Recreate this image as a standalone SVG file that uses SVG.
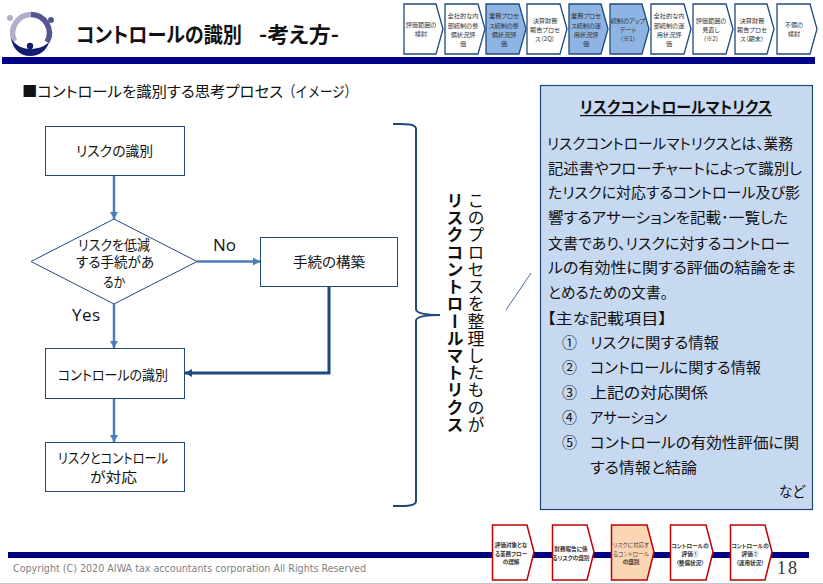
<svg xmlns="http://www.w3.org/2000/svg" width="823" height="584" viewBox="0 0 823 584">
<style>
text{font-family:"Noto Sans CJK JP","Noto Sans",sans-serif;font-feature-settings:"palt";fill:#111;white-space:pre}
.ch{font-size:6.2px;text-anchor:middle;fill:#333}
.cb{font-size:5.600px;text-anchor:middle;font-weight:700;fill:#333}
.cn{font-size:5.600px;text-anchor:middle;fill:#444}
.t{stroke:#1f497d;stroke-width:1.3;fill:#fff}
.tb{stroke:#1f497d;stroke-width:1.3;fill:#8eb4e3}
.b{stroke:#c00000;stroke-width:1.5;fill:#fff}
.bh{stroke:#c00000;stroke-width:1.5;fill:#fcd5b5}
.box{fill:#fff;stroke:#1f497d;stroke-width:1}
.fl{font-size:14px}
.bd{font-size:15px}
.lb{font-family:"Open Sans","Liberation Sans",sans-serif;font-size:17px;font-feature-settings:normal}
.c1{fill:none;stroke:#4a7ebb;stroke-width:2.5}
.c2{fill:none;stroke:#1f497d;stroke-width:3}
</style>
<defs>
<marker id="a1" markerUnits="userSpaceOnUse" markerWidth="8" markerHeight="8" refX="7" refY="4" orient="auto"><path d="M0,0L7,4L0,8Z" fill="#4a7ebb"/></marker>
<marker id="a2" markerUnits="userSpaceOnUse" markerWidth="8" markerHeight="8" refX="7" refY="4" orient="auto"><path d="M0,0L7,4L0,8Z" fill="#1f497d"/></marker>
</defs>
<rect width="823" height="584" fill="#fff"/>
<g id="logo">
<path d="M14.500,41A18.500,18.500 0 0 1 31,14.500" fill="none" stroke="#b1afcb" stroke-width="5.500"/>
<path d="M31,14.500A18.500,18.500 0 0 1 47,42" fill="none" stroke="#55568f" stroke-width="5.500"/>
<path d="M11,38C13,50 21,56 30,56C40,56 47,50 49,42C44,47 37,49 30,49C22,49 15,45 11,38Z" fill="#141e6e"/>
<circle cx="10" cy="18" r="3" fill="#b1afcb"/><circle cx="51" cy="20" r="3" fill="#55568f"/><circle cx="30" cy="46" r="3.200" fill="#141e6e"/>
</g>
<g id="title"><text x="76" y="42" font-size="21" font-weight="700" textLength="166" lengthAdjust="spacingAndGlyphs">コントロールの識別</text><text x="259" y="42" font-size="21" font-weight="700" textLength="80" lengthAdjust="spacingAndGlyphs">-考え方-</text></g>
<rect id="top-band" x="2" y="57" width="813" height="7" fill="#00008b"/>
<g id="top-steps">
<g id="s1"><path class="t" d="M404,4H436L443,29L436,54H404Z"/><text class="ch"><tspan x="421" y="27">評価範囲の</tspan><tspan x="421" y="36">検討</tspan></text></g>
<g id="s2"><path class="t" d="M445,4H478L485,29L478,54H445Z"/><text class="ch"><tspan x="463" y="18">全社的な内</tspan><tspan x="463" y="28">部統制の整</tspan><tspan x="463" y="37">備状況評</tspan><tspan x="463" y="46">価</tspan></text></g>
<g id="s3"><path class="tb" d="M486,4H519L526,29L519,54H486Z"/><text class="ch"><tspan x="504" y="18">業務プロセ</tspan><tspan x="504" y="28">ス統制の整</tspan><tspan x="504" y="37">備状況評</tspan><tspan x="504" y="46">価</tspan></text></g>
<g id="s4"><path class="t" d="M527,4H560L567,29L560,54H527Z"/><text class="ch"><tspan x="545" y="23">決算財務</tspan><tspan x="545" y="32">報告プロセ</tspan><tspan x="545" y="41">ス（2Q）</tspan></text></g>
<g id="s5"><path class="tb" d="M569,4H601L608,29L601,54H569Z"/><text class="ch"><tspan x="586" y="18">業務プロセ</tspan><tspan x="586" y="28">ス統制の運</tspan><tspan x="586" y="37">用状況評</tspan><tspan x="586" y="46">価</tspan></text></g>
<g id="s6"><path class="tb" d="M610,4H642L649,29L642,54H610Z"/><text class="ch"><tspan x="628" y="23">統制のアップ</tspan><tspan x="628" y="32">デート</tspan><tspan x="628" y="41">（※1）</tspan></text></g>
<g id="s7"><path class="t" d="M651,4H684L691,29L684,54H651Z"/><text class="ch"><tspan x="669" y="18">全社的な内</tspan><tspan x="669" y="28">部統制の運</tspan><tspan x="669" y="37">用状況評</tspan><tspan x="669" y="46">価</tspan></text></g>
<g id="s8"><path class="t" d="M693,4H726L733,29L726,54H693Z"/><text class="ch"><tspan x="711" y="23">評価範囲の</tspan><tspan x="711" y="32">見直し</tspan><tspan x="711" y="41">（※2）</tspan></text></g>
<g id="s9"><path class="t" d="M735,4H767L774,29L767,54H735Z"/><text class="ch"><tspan x="752" y="23">決算財務</tspan><tspan x="752" y="32">報告プロセ</tspan><tspan x="752" y="41">ス（期末）</tspan></text></g>
<g id="s10"><path class="t" d="M777,4H810L817,29L810,54H777Z"/><text class="ch"><tspan x="794" y="27">不備の</tspan><tspan x="794" y="36">検討</tspan></text></g>
</g>
<g id="subtitle"><text x="22" y="97" font-size="15" textLength="261" lengthAdjust="spacingAndGlyphs">■コントロールを識別する思考プロセス</text><text x="283" y="97" font-size="15" style="font-feature-settings:normal" textLength="74" lengthAdjust="spacingAndGlyphs">（イメージ）</text></g>
<g id="connectors">
<path class="c1" d="M114,175V219" marker-end="url(#a1)"/>
<path class="c1" d="M114,304V348" marker-end="url(#a1)"/>
<path class="c1" d="M114,399V442" marker-end="url(#a1)"/>
<path class="c1" d="M197,261.500H260" marker-end="url(#a1)"/>
<path class="c2" d="M329,286V373H185" marker-end="url(#a2)"/>
</g>
<g id="n-risk"><rect class="box" x="45.500" y="126.500" width="139" height="49"/><text class="fl" x="76" y="156" textLength="77" lengthAdjust="spacingAndGlyphs">リスクの識別</text></g>
<g id="n-decision"><path class="box" d="M31,261.500L114,219L197,261.500L114,304Z"/><text class="fl" x="78" y="250" textLength="72" lengthAdjust="spacingAndGlyphs">リスクを低減</text><text class="fl" x="76" y="267" textLength="78" lengthAdjust="spacingAndGlyphs">する手続があ</text><text class="fl" x="103" y="287" textLength="22" lengthAdjust="spacingAndGlyphs">るか</text></g>
<g id="n-proc"><rect class="box" x="260.500" y="237.500" width="137" height="49"/><text class="fl" x="293" y="267" textLength="72" lengthAdjust="spacingAndGlyphs">手続の構築</text></g>
<g id="n-control"><rect class="box" x="45.500" y="348.500" width="139" height="50"/><text class="fl" x="58" y="380" textLength="110" lengthAdjust="spacingAndGlyphs">コントロールの識別</text></g>
<g id="n-match"><rect class="box" x="45.500" y="442.500" width="139" height="49"/><text class="fl" x="58" y="463" textLength="110" lengthAdjust="spacingAndGlyphs">リスクとコントロール</text><text class="fl" x="90" y="482" textLength="47" lengthAdjust="spacingAndGlyphs">が対応</text></g>
<text class="lb" x="213" y="251" textLength="23">No</text>
<text class="lb" x="72" y="321" textLength="28">Yes</text>
<g id="brace"><path d="M393,124C402,124 416,123 416,129V309C416,313 424,315 440,315C424,315 416,317 416,321V501C416,507 402,506 393,506" fill="none" stroke="#1f497d" stroke-width="2"/></g>
<text x="476" y="192" font-size="17" style="writing-mode:vertical-rl;font-feature-settings:normal" textLength="241" lengthAdjust="spacing" dominant-baseline="central">このプロセスを整理したものが</text>
<text x="455" y="192" font-size="17" font-weight="700" style="writing-mode:vertical-rl;font-feature-settings:normal" textLength="241" lengthAdjust="spacing" dominant-baseline="central">リスクコントロールマトリクス</text>
<path d="M506,310L531,273" stroke="#1f497d" stroke-width="0.8" fill="none"/>
<g id="rcm-note">
<rect x="540.500" y="85.500" width="272" height="424" fill="#c6d9f1" stroke="#1f497d" stroke-width="1.200"/>
<text x="580" y="113" font-size="16" font-weight="700" textLength="192" lengthAdjust="spacingAndGlyphs">リスクコントロールマトリクス</text>
<rect x="580" y="115" width="192" height="1.200" fill="#111"/>
<text class="bd" x="547" y="149" textLength="246" lengthAdjust="spacingAndGlyphs">リスクコントロールマトリクスとは、業務</text>
<text class="bd" x="548" y="174" textLength="254" lengthAdjust="spacingAndGlyphs">記述書やフローチャートによって識別し</text>
<text class="bd" x="548" y="198" textLength="252" lengthAdjust="spacingAndGlyphs">たリスクに対応するコントロール及び影</text>
<text class="bd" x="548" y="223" textLength="240" lengthAdjust="spacingAndGlyphs">響するアサーションを記載･一覧した</text>
<text class="bd" x="548" y="249" textLength="242" lengthAdjust="spacingAndGlyphs">文書であり、リスクに対するコントロー</text>
<text class="bd" x="548" y="273" textLength="248" lengthAdjust="spacingAndGlyphs">ルの有効性に関する評価の結論をま</text>
<text class="bd" x="548" y="298" textLength="120" lengthAdjust="spacingAndGlyphs">とめるための文書。</text>
<text class="bd" x="547" y="324" textLength="120" lengthAdjust="spacingAndGlyphs">【主な記載項目】</text>
<text class="bd" x="562" y="348">①</text><text class="bd" x="590" y="348" textLength="129" lengthAdjust="spacingAndGlyphs">リスクに関する情報</text>
<text class="bd" x="562" y="373">②</text><text class="bd" x="590" y="373" textLength="171" lengthAdjust="spacingAndGlyphs">コントロールに関する情報</text>
<text class="bd" x="562" y="398">③</text><text class="bd" x="590" y="398" textLength="118" lengthAdjust="spacingAndGlyphs">上記の対応関係</text>
<text class="bd" x="562" y="423">④</text><text class="bd" x="590" y="423" textLength="77" lengthAdjust="spacingAndGlyphs">アサーション</text>
<text class="bd" x="562" y="448">⑤</text><text class="bd" x="590" y="448" textLength="209" lengthAdjust="spacingAndGlyphs">コントロールの有効性評価に関</text>
<text class="bd" x="590" y="473" textLength="107" lengthAdjust="spacingAndGlyphs">する情報と結論</text>
<text class="bd" x="779" y="497" textLength="26" lengthAdjust="spacingAndGlyphs">など</text>
</g>
<rect id="bottom-band" x="8" y="552" width="801" height="6" fill="#000080"/>
<g id="bottom-steps">
<g id="b1"><path class="b" d="M492.500,525H527L534,552L527,580H492.500Z"/><text x="511" y="547" class="cb">評価対象とな</text><text x="511" y="555.500" class="cb">る業務フロー</text><text x="511" y="564" class="cb">の理解</text></g>
<g id="b2"><path class="b" d="M552.500,525H587L594,552L587,580H552.500Z"/><text x="571" y="551" class="cb">財務報告に係</text><text x="571" y="559.500" class="cb">るリスクの識別</text></g>
<g id="b3"><path class="bh" d="M611.500,525H647L654,552L647,580H611.500Z"/><text x="631" y="547" class="cn">リスクに対応す</text><text x="631" y="555.500" class="cn">るコントロール</text><text x="631" y="564" class="cb">の識別</text></g>
<g id="b4"><path class="b" d="M670.500,525H706L713,552L706,580H670.500Z"/><text x="690" y="548" class="cb">コントロールの</text><text x="690" y="556" class="cb">評価①</text><text x="690" y="564.500" class="cb">（整備状況）</text></g>
<g id="b5"><path class="b" d="M730.500,525H765L772,552L765,580H730.500Z"/><text x="750" y="548" class="cb">コントロールの</text><text x="750" y="556" class="cb">評価②</text><text x="750" y="564.500" class="cb">（運用状況）</text></g>
</g>
<text x="13" y="572" font-size="10" style="font-family:'DejaVu Sans',sans-serif;fill:#7f7f7f" textLength="353" lengthAdjust="spacingAndGlyphs">Copyright (C) 2020 AIWA tax accountants corporation All Rights Reserved</text>
<text x="777" y="574" font-size="18" style="font-family:'Liberation Serif',serif;fill:#333" textLength="20">18</text>
<rect x="0" y="583" width="823" height="1" fill="#c8c8c8"/>
</svg>
